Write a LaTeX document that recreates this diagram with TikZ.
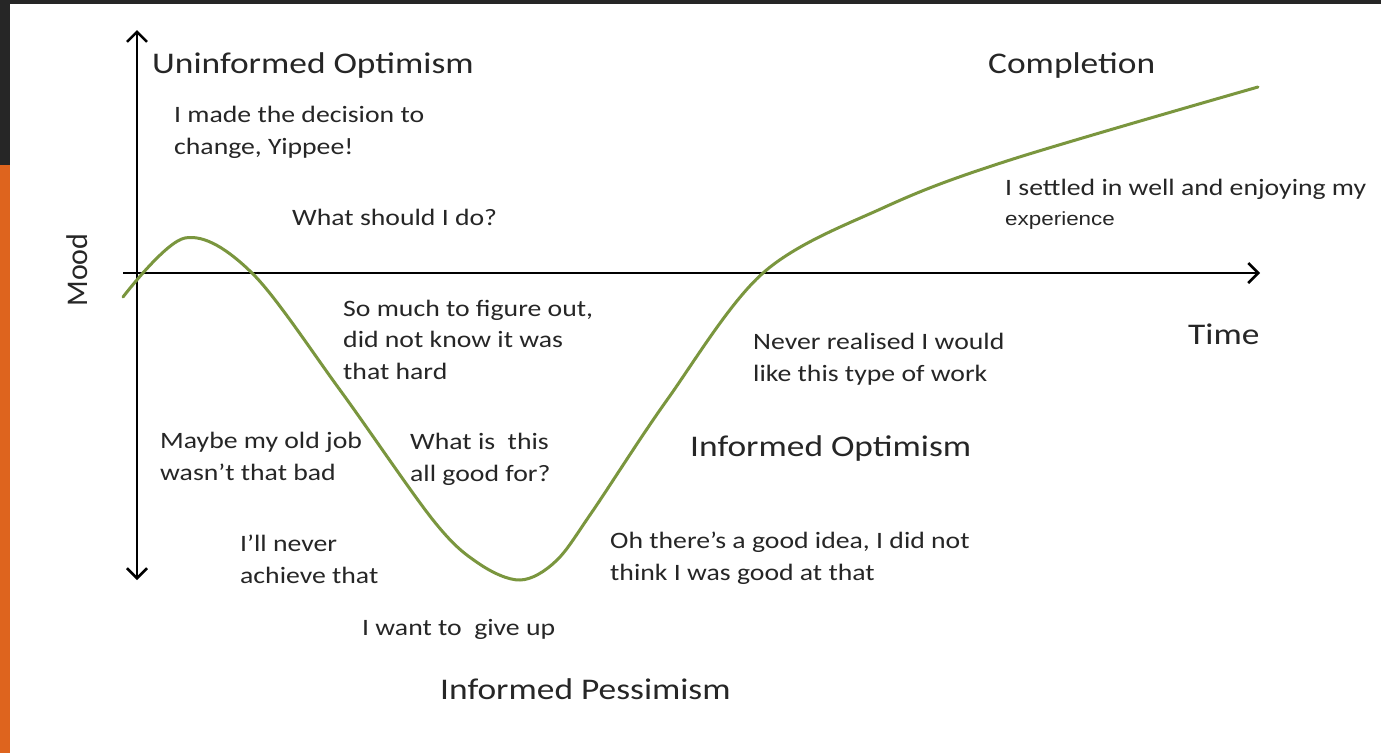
\documentclass[tikz,border=0pt]{standalone}
\usepackage{fontspec}
\setmainfont{Carlito}[FakeStretch=1.18]
\newfontfamily\moodfont{Carlito}
\newfontfamily\arialfont{Liberation Sans}[FakeStretch=1.18]
\usetikzlibrary{arrows.meta}
\tikzset{x=1pt,y=1pt}
\definecolor{curvegreen}{RGB}{122,150,62}
\definecolor{textgrey}{RGB}{38,38,38}
\definecolor{framedark}{RGB}{38,38,38}
\definecolor{frameorange}{RGB}{222,100,30}
\def\headsize{\fontsize{30}{36}\selectfont}
\def\bodysize{\fontsize{23.5}{31.5}\selectfont}

\tikzset{
  phase/.style={anchor=base west, inner sep=0pt, text=textgrey, font=\headsize},
  remark/.style={anchor=base west, inner sep=0pt, text=textgrey, font=\bodysize, align=left},
  axisline/.style={line width=2.5pt, -{Straight Barb[length=10pt,width=20pt]}},
  moodline/.style={line width=3pt, curvegreen, line cap=round, line join=round}
}

\begin{document}
\begin{tikzpicture}

%% page with its dark and orange edge
\useasboundingbox (0,0) rectangle (1381,-753);
\fill[white] (0,0) rectangle (1381,-753);
\fill[framedark] (0,0) rectangle (1381,-4);
\fill[framedark] (0,-4) rectangle (10,-165);
\fill[frameorange] (0,-165) rectangle (10,-753);

%% axes
\coordinate (O) at (137,-273);
\coordinate (Ytop) at (137,-30);
\coordinate (Ybot) at (137,-580);
\coordinate (Xl) at (123,-273);
\coordinate (Xr) at (1260,-273);

\draw[axisline, {Straight Barb[length=10pt,width=20pt]}-{Straight Barb[length=10pt,width=20pt]}] (Ybot) -- (Ytop);
\draw[axisline] (Xl) -- (Xr);

\node[rotate=90, inner sep=0pt, text=textgrey, font=\moodfont\fontsize{30}{36}\selectfont] (M) at (77,-270) {Mood};
\node[phase] (T) at (1188,-344) {Time};

%% the curve
\coordinate (s) at (123,-297);
\coordinate (p) at (185,-238);
\coordinate (c1) at (252,-273);
\coordinate (d1) at (340,-390);
\coordinate (d2) at (433,-520);
\coordinate (d3) at (478,-563);
\coordinate (b) at (520,-580);
\coordinate (u1) at (556,-561);
\coordinate (u2) at (592,-512);
\coordinate (u3) at (667,-400);
\coordinate (c2) at (763,-273);
\coordinate (k1) at (885,-207);
\coordinate (k2) at (1010,-160);
\coordinate (e) at (1258,-87);

\draw[moodline] plot[smooth, tension=0.55] coordinates {(s) (p) (c1) (d1) (d2) (d3) (b) (u1) (u2) (u3) (c2) (k1) (k2) (e)};

%% phases
\node[phase] (UO) at (152,-73) {Uninformed Optimism};
\node[phase] (C) at (988,-73) {Completion};
\node[phase] (IO) at (690,-456) {Informed Optimism};
\node[phase] (IP) at (440,-699) {Informed Pessimism};

%% what one thinks on the way
\node[remark] (R1) at (174,-154) {I made the decision to\\change, Yippee!};
\node[remark] (R2) at (292,-225) {What should I do?};
\node[remark] (R3) at (343,-379) {So much to figure out,\\did not know it was\\that hard};
\node[remark] (R4) at (160,-480) {Maybe my old job\\wasn’t that bad};
\node[remark] (R5) at (410,-481) {What is\ \ this\\all good for?};
\node[remark] (R6) at (240,-583) {I’ll never\\achieve that};
\node[remark] (R7) at (362,-635) {I want to\ \ give up};
\node[remark] (R8) at (610,-580) {Oh there’s a good idea, I did not\\think I was good at that};
\node[remark] (R9) at (753,-381) {Never realised I would\\like this type of work};
\node[remark] (R10) at (1005,-225) {I settled in well and enjoying my\\[-2pt]{\arialfont\fontsize{19}{24}\selectfont experience}};

\end{tikzpicture}
\end{document}
